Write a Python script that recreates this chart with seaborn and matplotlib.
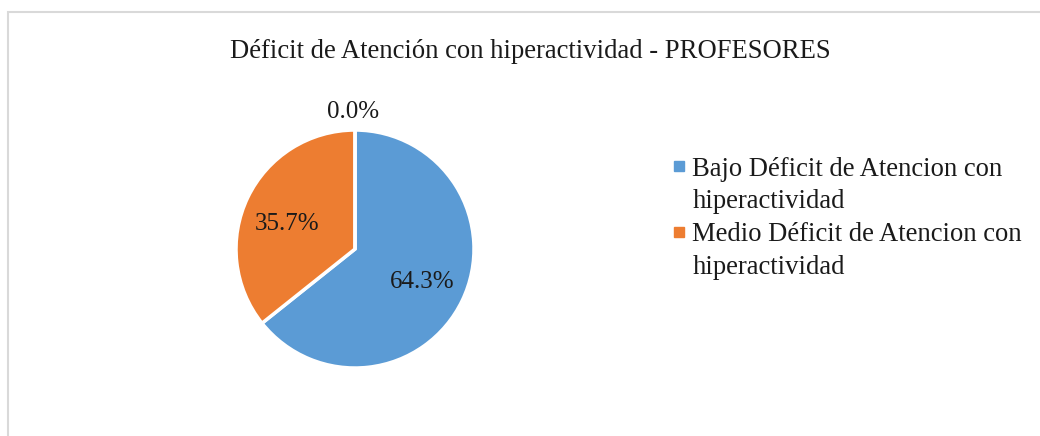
import matplotlib
matplotlib.use('Agg')
import matplotlib.pyplot as plt
import matplotlib.patches as mpatches
from matplotlib.lines import Line2D
import numpy as np
import seaborn as sns

# Data
CATEGORIES = ['Bajo Déficit de Atencion con\nhiperactividad',
              'Medio Déficit de Atencion con\nhiperactividad',
              'Alto Déficit de Atencion con\nhiperactividad']
VALUES = [9, 5, 0]
COLORS = ['#5B9BD5', '#ED7D31', '#A5A5A5']
TITLE = 'Déficit de Atención con hiperactividad - PROFESORES'

sns.set_theme(style='white')
plt.rcParams['font.family'] = ['Liberation Serif', 'DejaVu Serif']

FS = 19.2
PCT_FS = 18

fig = plt.figure(figsize=(10.4, 4.36), dpi=100)
fig.patch.set_facecolor('white')

# light frame around the chart area (cut at right and bottom)
frame = mpatches.Rectangle((8 / 1040, -0.05), 1.2, 0.05 + 1 - 12 / 436,
                           transform=fig.transFigure, fill=False,
                           edgecolor='#D9D9D9', linewidth=1.5)
fig.patches.append(frame)

ax = fig.add_axes([0.1983, 0.0877, 0.2861, 0.6823])
wedges, texts, autotexts = ax.pie(
    VALUES, colors=COLORS, startangle=90, counterclock=False,
    autopct='%1.1f%%', pctdistance=0.63,
    wedgeprops=dict(edgecolor='white', linewidth=2.5),
    textprops=dict(fontsize=PCT_FS, color='#1a1a1a'))
ax.set_aspect('equal')

# the empty slice gets its label outside, above the pie
for w, t, v in zip(wedges, autotexts, VALUES):
    if v == 0:
        ang = np.deg2rad((w.theta1 + w.theta2) / 2)
        t.set_position((1.15 * np.cos(ang) - 0.02, 1.15 * np.sin(ang)))
    elif v == 5:
        x, y = t.get_position()
        t.set_position((x, y - 0.06))

fig.text(0.5096, 0.883, TITLE, ha='center', va='center', fontsize=FS,
         color='#1a1a1a')

handles = [Line2D([], [], marker='s', linestyle='none', markersize=6.5,
                  markerfacecolor=c, markeredgecolor=c) for c in COLORS[:2]]
leg = fig.legend(handles, CATEGORIES[:2], loc='upper left',
                 bbox_to_anchor=(0.638, 0.665), frameon=False, fontsize=FS,
                 handlelength=0.34, handleheight=0.7, handletextpad=0.34,
                 labelspacing=0.3, labelcolor='#1a1a1a', borderaxespad=0)
for t in leg.get_texts():
    t.set_linespacing(1.4)
for hp in leg._legend_handle_box.get_children()[0].get_children():
    hp.align = 'top'

fig.savefig('out.png', dpi=100, facecolor='white')
